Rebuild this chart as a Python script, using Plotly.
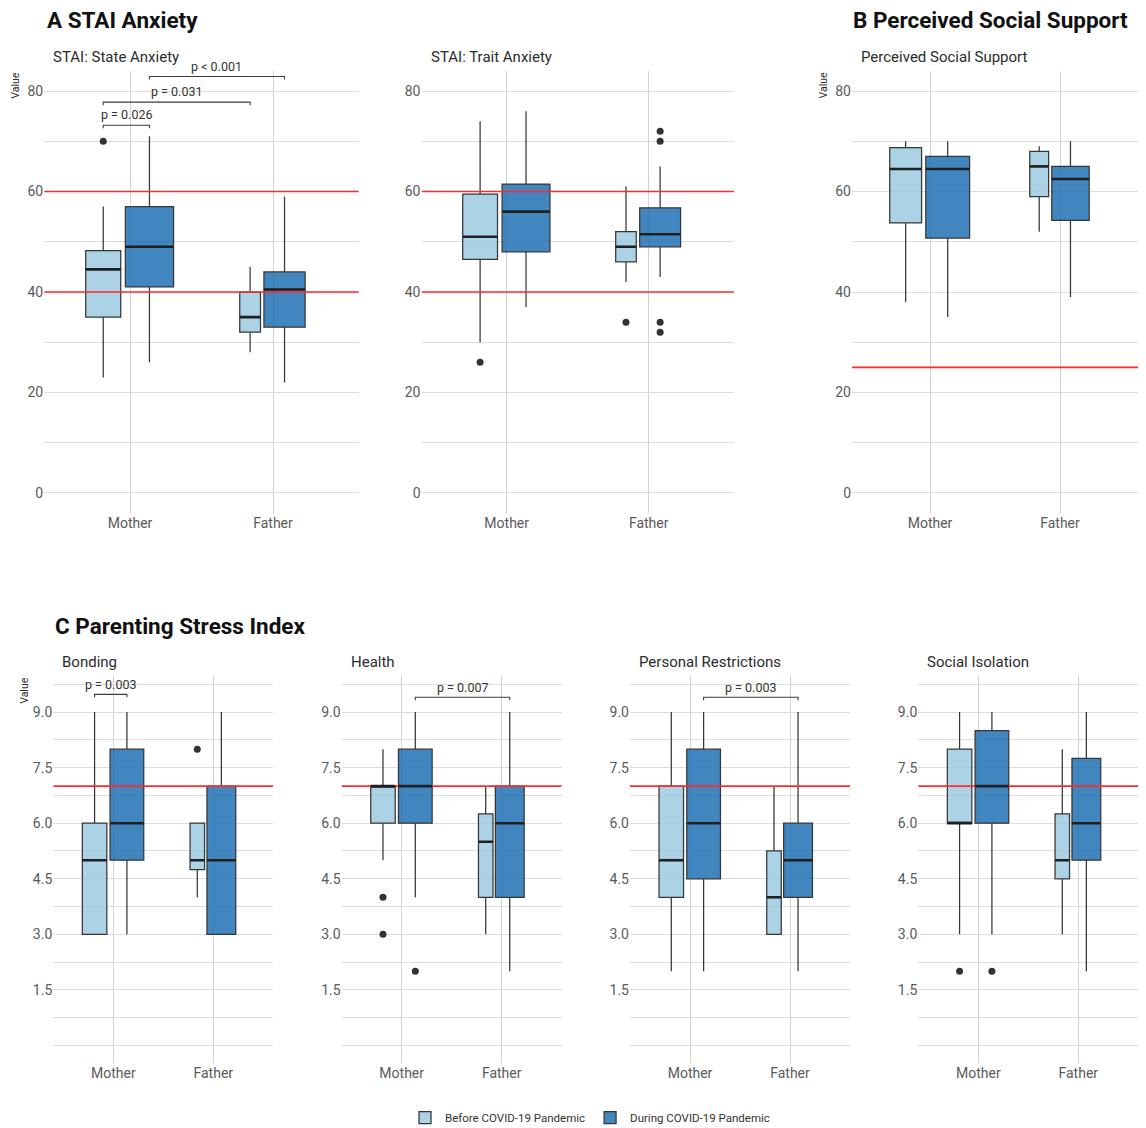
import plotly.graph_objects as go

# ---------------------------------------------------------------------------
# Data
# ---------------------------------------------------------------------------
PARENTS = ["Mother", "Father"]
PERIODS = ["Before COVID-19 Pandemic", "During COVID-19 Pandemic"]

# Box summaries: [lower whisker, Q1, median, Q3, upper whisker]
# group order: Mother/before, Mother/during, Father/before, Father/during
STATE_ANXIETY = [
    [23, 35, 44.5, 48.25, 57],
    [26, 41, 49, 57, 71],
    [28, 32, 35, 40, 45],
    [22, 33, 40.5, 44, 59],
]
STATE_ANXIETY_OUTLIERS = [[70], [], [], []]

TRAIT_ANXIETY = [
    [30, 46.5, 51, 59.5, 74],
    [37, 48, 56, 61.5, 76],
    [42, 46, 49, 52, 61],
    [43, 49, 51.5, 56.75, 65],
]
TRAIT_ANXIETY_OUTLIERS = [[26], [], [34], [72, 70, 34, 32]]

SOCIAL_SUPPORT = [
    [38, 53.75, 64.5, 68.75, 70],
    [35, 50.75, 64.5, 67, 70],
    [52, 59, 65, 68, 69],
    [39, 54.25, 62.5, 65, 70],
]
SOCIAL_SUPPORT_OUTLIERS = [[], [], [], []]

BONDING = [
    [3, 3, 5, 6, 9],
    [3, 5, 6, 8, 9],
    [4, 4.75, 5, 6, 6],
    [3, 3, 5, 7, 9],
]
BONDING_OUTLIERS = [[], [], [8], []]

HEALTH = [
    [5, 6, 7, 7, 8],
    [4, 6, 7, 8, 9],
    [3, 4, 5.5, 6.25, 7],
    [2, 4, 6, 7, 9],
]
HEALTH_OUTLIERS = [[4, 3], [2], [], []]

PERSONAL_RESTRICTIONS = [
    [2, 4, 5, 7, 9],
    [2, 4.5, 6, 8, 9],
    [3, 3, 4, 5.25, 7],
    [2, 4, 5, 6, 9],
]
PERSONAL_RESTRICTIONS_OUTLIERS = [[], [], [], []]

SOCIAL_ISOLATION = [
    [3, 6, 6, 8, 9],
    [3, 6, 7, 8.5, 9],
    [3, 4.5, 5, 6.25, 8],
    [2, 5, 6, 7.75, 9],
]
SOCIAL_ISOLATION_OUTLIERS = [[2], [2], [], []]

# Clinical cut-off lines
STAI_CUTOFFS = [40, 60]
SOCIAL_SUPPORT_CUTOFFS = [25]
PSI_CUTOFFS = [7]

# Significance tests: (group a, group b, label)
STATE_TESTS = [(0, 1, "p = 0.026"), (0, 2, "p = 0.031"), (1, 3, "p < 0.001")]
BONDING_TESTS = [(0, 1, "p = 0.003")]
HEALTH_TESTS = [(1, 3, "p = 0.007")]
RESTRICTION_TESTS = [(1, 3, "p = 0.003")]

# ---------------------------------------------------------------------------
# Layout / style
# ---------------------------------------------------------------------------
W, H = 1146, 1128
FONT = "Roboto, 'Noto Sans', sans-serif"
FILL = ["rgba(158,202,225,0.85)", "rgba(33,113,181,0.85)"]
BOX_LINE = "#363636"
GRID = "#dddddd"
VGRID = "#d2d2d2"
RED = "#ff2b2b"
X_RANGE = [0.4, 2.6]

# relative box widths (variable width boxes), same group order as data
BOX_WIDTHS = [0.245, 0.337, 0.145, 0.288]
DODGE_PADDING = 0.1

TOP_Y = (71, 513)        # pixel top / bottom of upper panels
BOT_Y = (676, 1063)      # pixel top / bottom of lower panels
TOP_RANGE = [-4, 84]
BOT_RANGE = [-0.475, 9.975]

# bracket heights for each test (data units), in the same order as tests
STATE_BRACKET_Y = [73.2, 77.8, 82.9]
BONDING_BRACKET_Y = [9.48]
HEALTH_BRACKET_Y = [9.4]
RESTRICTION_BRACKET_Y = [9.4]

panels = [
    dict(title="STAI: State Anxiety", stats=STATE_ANXIETY, outliers=STATE_ANXIETY_OUTLIERS,
         cut=STAI_CUTOFFS, tests=STATE_TESTS, bracket_y=STATE_BRACKET_Y,
         x=(44.2, 358.8), row="top", value_label=True),
    dict(title="STAI: Trait Anxiety", stats=TRAIT_ANXIETY, outliers=TRAIT_ANXIETY_OUTLIERS,
         cut=STAI_CUTOFFS, tests=[], bracket_y=[],
         x=(421.5, 733.9), row="top", value_label=False),
    dict(title="Perceived Social Support", stats=SOCIAL_SUPPORT, outliers=SOCIAL_SUPPORT_OUTLIERS,
         cut=SOCIAL_SUPPORT_CUTOFFS, tests=[], bracket_y=[],
         x=(852.0, 1138.0), row="top", value_label=True),
    dict(title="Bonding", stats=BONDING, outliers=BONDING_OUTLIERS,
         cut=PSI_CUTOFFS, tests=BONDING_TESTS, bracket_y=BONDING_BRACKET_Y,
         x=(53.3, 273.3), row="bot", value_label=True),
    dict(title="Health", stats=HEALTH, outliers=HEALTH_OUTLIERS,
         cut=PSI_CUTOFFS, tests=HEALTH_TESTS, bracket_y=HEALTH_BRACKET_Y,
         x=(341.7, 561.7), row="bot", value_label=False),
    dict(title="Personal Restrictions", stats=PERSONAL_RESTRICTIONS,
         outliers=PERSONAL_RESTRICTIONS_OUTLIERS,
         cut=PSI_CUTOFFS, tests=RESTRICTION_TESTS, bracket_y=RESTRICTION_BRACKET_Y,
         x=(630.0, 850.0), row="bot", value_label=False),
    dict(title="Social Isolation", stats=SOCIAL_ISOLATION, outliers=SOCIAL_ISOLATION_OUTLIERS,
         cut=PSI_CUTOFFS, tests=[], bracket_y=[],
         x=(918.3, 1138.3), row="bot", value_label=False),
]


def px_x(p):
    return p / W


def px_y(p):
    return 1 - p / H


def dodge_centers(widths):
    """Place the two boxes of each parent side by side (dodge with padding)."""
    full = [w / (1 - DODGE_PADDING) for w in widths]
    centers = []
    for k in range(len(PARENTS)):
        wb, wd = full[2 * k], full[2 * k + 1]
        start = (k + 1) - (wb + wd) / 2
        centers += [start + wb / 2, start + wb + wd / 2]
    return centers


CENTERS = dodge_centers(BOX_WIDTHS)

fig = go.Figure()
annotations = []

for i, pan in enumerate(panels, start=1):
    xa = "x" if i == 1 else f"x{i}"
    ya = "y" if i == 1 else f"y{i}"
    top = pan["row"] == "top"
    ypx = TOP_Y if top else BOT_Y
    yrange = TOP_RANGE if top else BOT_RANGE

    # cut-off lines, drawn first so the boxes sit on top of them
    for v in pan["cut"]:
        fig.add_trace(go.Scatter(
            x=X_RANGE, y=[v, v], mode="lines", line=dict(color=RED, width=1.6),
            showlegend=False, hoverinfo="skip", xaxis=xa, yaxis=ya))

    for g, (stats, outs) in enumerate(zip(pan["stats"], pan["outliers"])):
        lo, q1, med, q3, hi = stats
        c, w = CENTERS[g], BOX_WIDTHS[g]
        period = g % 2
        fig.add_trace(go.Box(
            x=[c], q1=[q1], median=[med], q3=[q3], lowerfence=[lo], upperfence=[hi],
            width=w, fillcolor=FILL[period], line=dict(color=BOX_LINE, width=1.25),
            whiskerwidth=0, boxpoints=False, name=PERIODS[period],
            legendgroup=PERIODS[period], showlegend=(i == 1 and g < 2),
            xaxis=xa, yaxis=ya, hoverinfo="skip",
        ))
        # thick median bar
        fig.add_trace(go.Scatter(
            x=[c - w / 2, c + w / 2], y=[med, med], mode="lines",
            line=dict(color="#1f1f1f", width=2.6), showlegend=False,
            hoverinfo="skip", xaxis=xa, yaxis=ya,
        ))
        if outs:
            fig.add_trace(go.Scatter(
                x=[c] * len(outs), y=outs, mode="markers",
                marker=dict(color="#333333", size=7), showlegend=False,
                hoverinfo="skip", xaxis=xa, yaxis=ya,
            ))

    # significance brackets
    span = yrange[1] - yrange[0]
    tip = 3.0 * span / (ypx[1] - ypx[0])
    for (a, b, label), yb in zip(pan["tests"], pan["bracket_y"]):
        x0, x1 = CENTERS[a], CENTERS[b]
        fig.add_trace(go.Scatter(
            x=[x0, x0, x1, x1], y=[yb - tip, yb, yb, yb - tip], mode="lines",
            line=dict(color="#3d3d3d", width=1.1), showlegend=False,
            hoverinfo="skip", xaxis=xa, yaxis=ya))
        annotations.append(dict(
            x=(x0 + x1) / 2, y=yb, xref=xa, yref=ya, text=label, showarrow=False,
            xanchor="center", yanchor="bottom", yshift=1 if top else 0,
            font=dict(family=FONT, size=12.5, color="#333333")))

    # axes
    xdom = [px_x(pan["x"][0]), px_x(pan["x"][1])]
    ydom = [px_y(ypx[1]), px_y(ypx[0])]
    xkey = "xaxis" if i == 1 else f"xaxis{i}"
    ykey = "yaxis" if i == 1 else f"yaxis{i}"
    fig.layout[xkey] = dict(
        domain=xdom, anchor=ya, range=X_RANGE, tickmode="array",
        tickvals=[1, 2], ticktext=PARENTS, showgrid=True, gridcolor=VGRID,
        gridwidth=1, zeroline=False, showline=False, ticks="", ticklabelstandoff=0,
        tickfont=dict(family=FONT, size=14, color="#5a5a5a"), fixedrange=True,
        automargin=False)
    if top:
        tv = [0, 20, 40, 60, 80]
        tt = [str(v) for v in tv]
        minor = dict(showgrid=True, gridcolor=GRID, gridwidth=1, tickvals=[10, 30, 50, 70])
    else:
        tv = [0, 1.5, 3.0, 4.5, 6.0, 7.5, 9.0]
        tt = [""] + [f"{v:.1f}" for v in tv[1:]]
        minor = dict(showgrid=True, gridcolor=GRID, gridwidth=1,
                     tickvals=[0.75, 2.25, 3.75, 5.25, 6.75, 8.25, 9.75])
    fig.layout[ykey] = dict(
        domain=ydom, anchor=xa, range=yrange, tickmode="array", tickvals=tv,
        ticktext=tt, showgrid=True, gridcolor=GRID, gridwidth=1, minor=minor,
        zeroline=False, showline=False, ticks="",
        tickfont=dict(family=FONT, size=14, color="#5a5a5a"), fixedrange=True,
        automargin=False)

    # panel title
    title_y = 57 if top else 662
    annotations.append(dict(
        x=px_x(pan["x"][0] + 7), y=px_y(title_y), xref="paper", yref="paper",
        text=pan["title"], showarrow=False, xanchor="left", yanchor="middle",
        font=dict(family=FONT, size=15, color="#2b2b2b")))

    if pan["value_label"]:
        annotations.append(dict(
            x=px_x(pan["x"][0] - 29), y=px_y(ypx[0] - 1), xref="paper", yref="paper",
            text="Value", textangle=-90, showarrow=False, xanchor="center",
            yanchor="top", font=dict(family=FONT, size=10.5, color="#2b2b2b")))

# section headings
for text, xp, yp in [("A STAI Anxiety", 45, 20), ("B Perceived Social Support", 851, 20),
                     ("C Parenting Stress Index", 53, 626)]:
    annotations.append(dict(
        x=px_x(xp), y=px_y(yp), xref="paper", yref="paper", text=f"<b>{text}</b>",
        showarrow=False, xanchor="left", yanchor="middle",
        font=dict(family=FONT, size=22.5, color="#111111")))

fig.update_layout(
    width=W, height=H, autosize=False,
    margin=dict(l=0, r=0, t=0, b=0, autoexpand=False),
    paper_bgcolor="white", plot_bgcolor="white",
    annotations=annotations,
    boxmode="overlay",
    showlegend=True,
    legend=dict(orientation="h", x=px_x(590), xanchor="center",
                y=px_y(1132), yanchor="bottom",
                font=dict(family=FONT, size=11.5, color="#333333"),
                itemwidth=30, bgcolor="rgba(0,0,0,0)"),
)

fig.write_html("out.html")
